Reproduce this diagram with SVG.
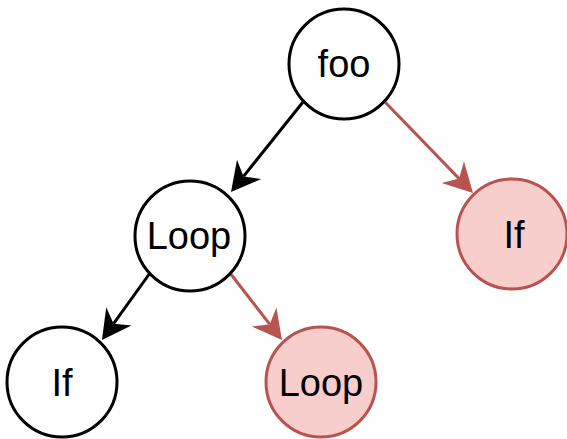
<svg xmlns="http://www.w3.org/2000/svg" width="567" height="439" viewBox="0 0 567 439">
  <style>
    .node { fill: #ffffff; stroke: #000000; stroke-width: 3; }
    .hot { fill: #f8cecc; stroke: #b85450; stroke-width: 3; }
    .label { font-family: "Liberation Sans", Arial, Helvetica, sans-serif; font-size: 38px; fill: #000000; text-anchor: middle; }
    .edge { fill: none; stroke-width: 3; }
    .edge.black { stroke: #000000; }
    .edge.red { stroke: #b85450; }
  </style>
  <defs>
    <!-- classic notched arrowhead; refX sits on the notch so the line joins there -->
    <marker id="arrowBlack" markerUnits="userSpaceOnUse" viewBox="-32 -18 34 36" refX="-20" refY="0" markerWidth="34" markerHeight="36" orient="auto">
      <path d="M0,0 L-29,-15.5 L-20,0 L-29,15.5 Z" fill="#000000"/>
    </marker>
    <marker id="arrowRed" markerUnits="userSpaceOnUse" viewBox="-32 -18 34 36" refX="-20" refY="0" markerWidth="34" markerHeight="36" orient="auto">
      <path d="M0,0 L-29,-15.5 L-20,0 L-29,15.5 Z" fill="#b85450"/>
    </marker>
  </defs>

  <g id="connectors">
    <line class="edge black" x1="303" y1="102" x2="243.5" y2="176.4" marker-end="url(#arrowBlack)"/>
    <line class="edge red" x1="385" y1="102" x2="459.1" y2="178.6" marker-end="url(#arrowRed)"/>
    <line class="edge black" x1="150" y1="273" x2="113.6" y2="323.7" marker-end="url(#arrowBlack)"/>
    <line class="edge red" x1="230" y1="273" x2="269.7" y2="324.2" marker-end="url(#arrowRed)"/>
  </g>

  <g id="node-foo">
    <circle class="node" cx="344" cy="64" r="55"/>
    <text class="label" x="344" y="77">foo</text>
  </g>
  <g id="node-loop">
    <circle class="node" cx="190" cy="236" r="55"/>
    <text class="label" x="189" y="249">Loop</text>
  </g>
  <g id="node-if-right">
    <circle class="hot" cx="512" cy="234" r="55"/>
    <text class="label" x="514" y="248">If</text>
  </g>
  <g id="node-if-left">
    <circle class="node" cx="62" cy="382" r="55"/>
    <text class="label" x="62" y="396">If</text>
  </g>
  <g id="node-loop-inner">
    <circle class="hot" cx="321" cy="382" r="55"/>
    <text class="label" x="321" y="396">Loop</text>
  </g>
</svg>
